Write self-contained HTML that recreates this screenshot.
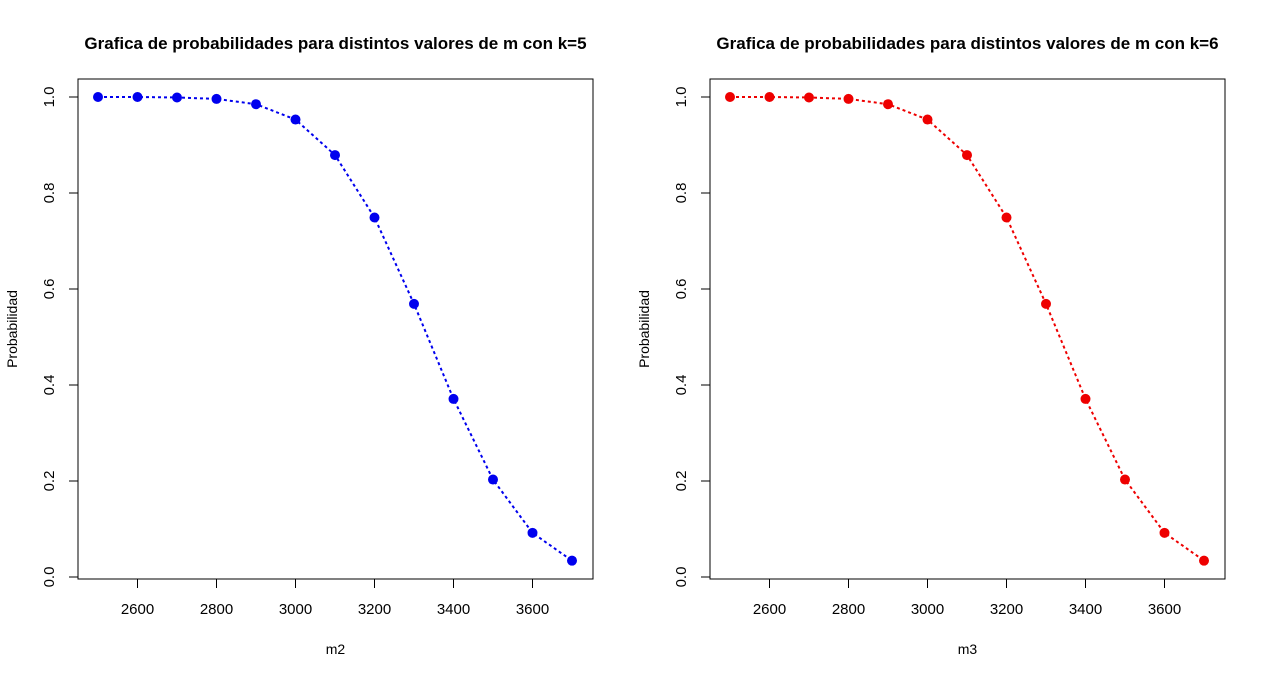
<!DOCTYPE html>
<html><head><meta charset="utf-8"><style>body{margin:0;background:#fff}svg{display:block}text{font-family:"Liberation Sans",sans-serif;fill:#000}</style></head>
<body>
<svg id="s" width="1265" height="677" viewBox="0 0 1265 677" xmlns="http://www.w3.org/2000/svg"></svg>
<script>
const mValues=[2500,2600,2700,2800,2900,3000,3100,3200,3300,3400,3500,3600,3700];
const probK5=[1.0,1.0,0.999,0.996,0.985,0.953,0.879,0.749,0.569,0.371,0.203,0.092,0.034];
const probK6=[1.0,1.0,0.999,0.996,0.985,0.953,0.879,0.749,0.569,0.371,0.203,0.092,0.034];
const xTicks=[2600,2800,3000,3200,3400,3600];
const yTicks=[0,0.2,0.4,0.6,0.8,1.0];
const yTickLabels=["0.0","0.2","0.4","0.6","0.8","1.0"];
const NS="http://www.w3.org/2000/svg";
const svg=document.getElementById('s');
function mk(t,a,p){const e=document.createElementNS(NS,t);for(const k in a)e.setAttribute(k,a[k]);(p||svg).appendChild(e);return e;}
function panel(off,vals,color,title,xlab,id){
  const L=78+off,R=593+off,T=79,B=579;
  const xs=v=>98+off+(v-2500)*(474/1200);
  const ys=v=>577-v*480;
  const g=mk('g',{});
  
  
  const t=mk('text',{x:(L+R)/2,y:49,'text-anchor':'middle','font-size':17,'font-weight':'bold'},g);t.textContent=title;
  
  const box=mk('rect',{x:L,y:T,width:R-L,height:B-T,fill:'none',stroke:'#000','stroke-width':1},g);
  
  xTicks.forEach(v=>{const x=xs(v);mk('line',{x1:x,x2:x,y1:B,y2:B+9,stroke:'#000'},g);
    const tx=mk('text',{x:x,y:614,'text-anchor':'middle','font-size':15},g);tx.textContent=v;
    });
  yTicks.forEach((v,i)=>{const y=ys(v);mk('line',{x1:L-9,x2:L,y1:y,y2:y,stroke:'#000'},g);
    const tx=mk('text',{'text-anchor':'middle','font-size':15},g);
    tx.setAttribute('transform',`translate(${L-24},${y}) rotate(-90)`);tx.textContent=yTickLabels[i];
    });
  const xl=mk('text',{x:(L+R)/2,y:654,'text-anchor':'middle','font-size':14},g);xl.textContent=xlab;
  
  const yl=mk('text',{transform:`translate(${L-61},329) rotate(-90)`,'text-anchor':'middle','font-size':14},g);yl.textContent='Probabilidad';
  
  const pts=mValues.map((m,i)=>xs(m)+','+ys(vals[i])).join(' ');
  const pl=mk('polyline',{points:pts,fill:'none',stroke:color,'stroke-width':2,'stroke-dasharray':'3,3'},g);
  
  mValues.forEach((m,i)=>{const c=mk('circle',{cx:xs(m),cy:ys(vals[i]),r:5,fill:color},g);
    });
}
panel(0,probK5,'#0000ee','Grafica de probabilidades para distintos valores de m con k=5','m2','k5');
panel(632,probK6,'#ee0000','Grafica de probabilidades para distintos valores de m con k=6','m3','k6');
</script>
</body></html>
